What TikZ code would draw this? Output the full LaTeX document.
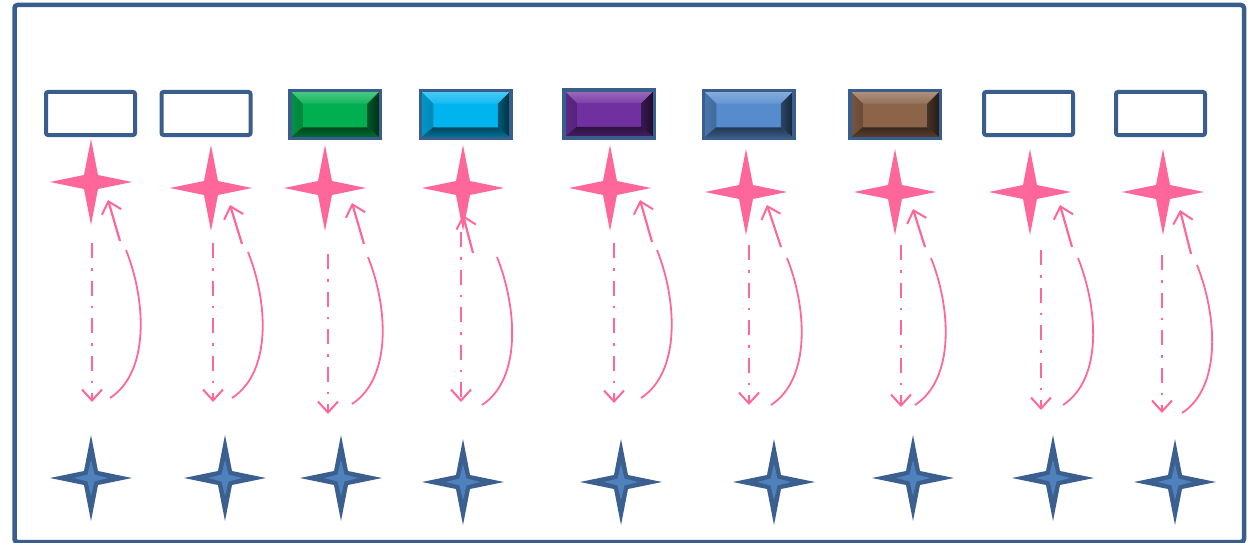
\documentclass[tikz,border=0pt]{standalone}
\usetikzlibrary{arrows.meta}
\definecolor{frameblue}{RGB}{58,94,140}
\definecolor{pinkc}{RGB}{255,102,153}
\definecolor{starblue}{RGB}{59,95,142}
\definecolor{starlight}{RGB}{79,129,189}
\definecolor{cgreen}{RGB}{0,176,80}
\definecolor{ccyan}{RGB}{0,180,240}
\definecolor{cpurple}{RGB}{112,48,160}
\definecolor{cblue}{RGB}{86,140,206}
\definecolor{cbrown}{RGB}{140,100,74}
\tikzset{
  emptybox/.style={draw=frameblue, line width=4pt, rounded corners=2pt,
    minimum width=89pt, minimum height=43pt, inner sep=0pt},
  bevelbox/.style={draw=frameblue, line width=3.5pt, minimum width=90.5pt,
    minimum height=47.5pt, inner sep=0pt,
    path picture={
      \fill[#1] (path picture bounding box.south west) rectangle (path picture bounding box.north east);
      % top face
      \shade[top color=#1!70!white, bottom color=#1!92!white]
        (path picture bounding box.north west) -- (path picture bounding box.north east)
        -- ([shift={(-13pt,-13pt)}]path picture bounding box.north east)
        -- ([shift={(13pt,-13pt)}]path picture bounding box.north west) -- cycle;
      % left face
      \shade[left color=#1!85!black, right color=#1!75!black]
        (path picture bounding box.north west) -- ([shift={(13pt,-13pt)}]path picture bounding box.north west)
        -- ([shift={(13pt,11pt)}]path picture bounding box.south west)
        -- (path picture bounding box.south west) -- cycle;
      % right face
      \shade[left color=#1!50!black, right color=#1!25!black]
        (path picture bounding box.north east) -- ([shift={(-13pt,-13pt)}]path picture bounding box.north east)
        -- ([shift={(-13pt,11pt)}]path picture bounding box.south east)
        -- (path picture bounding box.south east) -- cycle;
      % bottom face
      \shade[top color=#1!40!black, bottom color=#1!65!black]
        (path picture bounding box.south west) -- ([shift={(13pt,11pt)}]path picture bounding box.south west)
        -- ([shift={(-13pt,11pt)}]path picture bounding box.south east)
        -- (path picture bounding box.south east) -- cycle;
    }},
  starnode/.style={inner sep=0pt, minimum width=82pt, minimum height=86pt},
  pics/pinkstar/.style={code={
    \fill[pinkc] (0,-43) -- (7,-7) -- (41,0) -- (7,7) -- (0,43) -- (-7,7) -- (-41,0) -- (-7,-7) -- cycle;}},
  pics/bluestar/.style={code={
    \fill[starblue] (0,-43) -- (7,-7) -- (41,0) -- (7,7) -- (0,43) -- (-7,7) -- (-41,0) -- (-7,-7) -- cycle;
    \fill[starlight] (0,-18) -- (3.5,-3.5) -- (17,0) -- (3.5,3.5) -- (0,18) -- (-3.5,3.5) -- (-17,0) -- (-3.5,-3.5) -- cycle;}},
  dashdotarrow/.style={pinkc, line width=2.5pt, dash pattern=on 15pt off 10pt on 2.5pt off 10pt,
    -{Straight Barb[length=11pt,width=20pt,line width=2pt]}},
  bendline/.style={pinkc, line width=1.8pt},
  uparrow/.style={pinkc, line width=2.2pt, -{Straight Barb[length=11pt,width=20pt,line width=2pt]}}
}
\begin{document}
\begin{tikzpicture}[x=1pt,y=-1pt]
\useasboundingbox (0,0) rectangle (1254,543);
\draw[frameblue, line width=4.5pt, rounded corners=3pt] (14.5,5) rectangle (1244,542);

% top row of boxes
\node[emptybox] (box1) at (90.5,113.5) {};
\node[emptybox] (box2) at (206,113.5) {};
\node[bevelbox=cgreen] (box3) at (335,114.5) {};
\node[bevelbox=ccyan] (box4) at (465.5,114.5) {};
\node[bevelbox=cpurple] (box5) at (609,114) {};
\node[bevelbox=cblue] (box6) at (748.5,114.5) {};
\node[bevelbox=cbrown] (box7) at (895,114.5) {};
\node[emptybox] (box8) at (1028.5,113.5) {};
\node[emptybox] (box9) at (1160.5,113.5) {};

% pink stars
\foreach \i/\x/\y in {1/91/182, 2/211/188, 3/325/188, 4/463/188, 5/610/188,
                      6/746/192, 7/895/192, 8/1030/192, 9/1163/192}{
  \node[starnode] (p\i) at (\x,\y) {};
  \pic at (p\i) {pinkstar};
}

% blue stars
\foreach \i/\x/\y in {1/91/478, 2/225/478, 3/341/478, 4/463/482, 5/621/482,
                      6/774/482, 7/913/478, 8/1053/478, 9/1175/482}{
  \node[starnode] (b\i) at (\x,\y) {};
  \pic at (b\i) {bluestar};
}

% connectors: dash-dot arrow down, curved return arrow up
\foreach \i/\dx/\dt/\db/\sx/\sy/\ex/\ey/\ax/\ay/\tx/\ty in {
    1/92/243/402/110/398/126/250/120/241/108/200,
    2/213/243/402/232/398/248/252/242/244/230/205,
    3/328/254/414/352/404/368/257/364/244/352/203,
    4/461/232/402/482/405/497/257/473/253/463/215,
    5/614/243/403/641/398/657/250/652/242/640/200,
    6/749/245/405/771/405/787/258/781/247/767/205,
    7/901/245/407/915/405/931/258/925/247/913/209,
    8/1041/250/410/1063/405/1078/258/1072/247/1060/205,
    9/1162/255/413/1182/413/1197/265/1191/254/1180/210}{
  \coordinate (dt\i) at (\dx,\dt);
  \coordinate (db\i) at (\dx,\db);
  \coordinate (cs\i) at (\sx,\sy);
  \coordinate (ce\i) at (\ex,\ey);
  \coordinate (as\i) at (\ax,\ay);
  \coordinate (at\i) at (\tx,\ty);
  \draw[dashdotarrow] (dt\i) -- (db\i);
  \draw[bendline] (cs\i) .. controls ([shift={(40,-26)}]cs\i) and ([shift={(20,50)}]ce\i) .. (ce\i);
  \draw[uparrow] (as\i) -- (at\i);
}
\end{tikzpicture}
\end{document}
